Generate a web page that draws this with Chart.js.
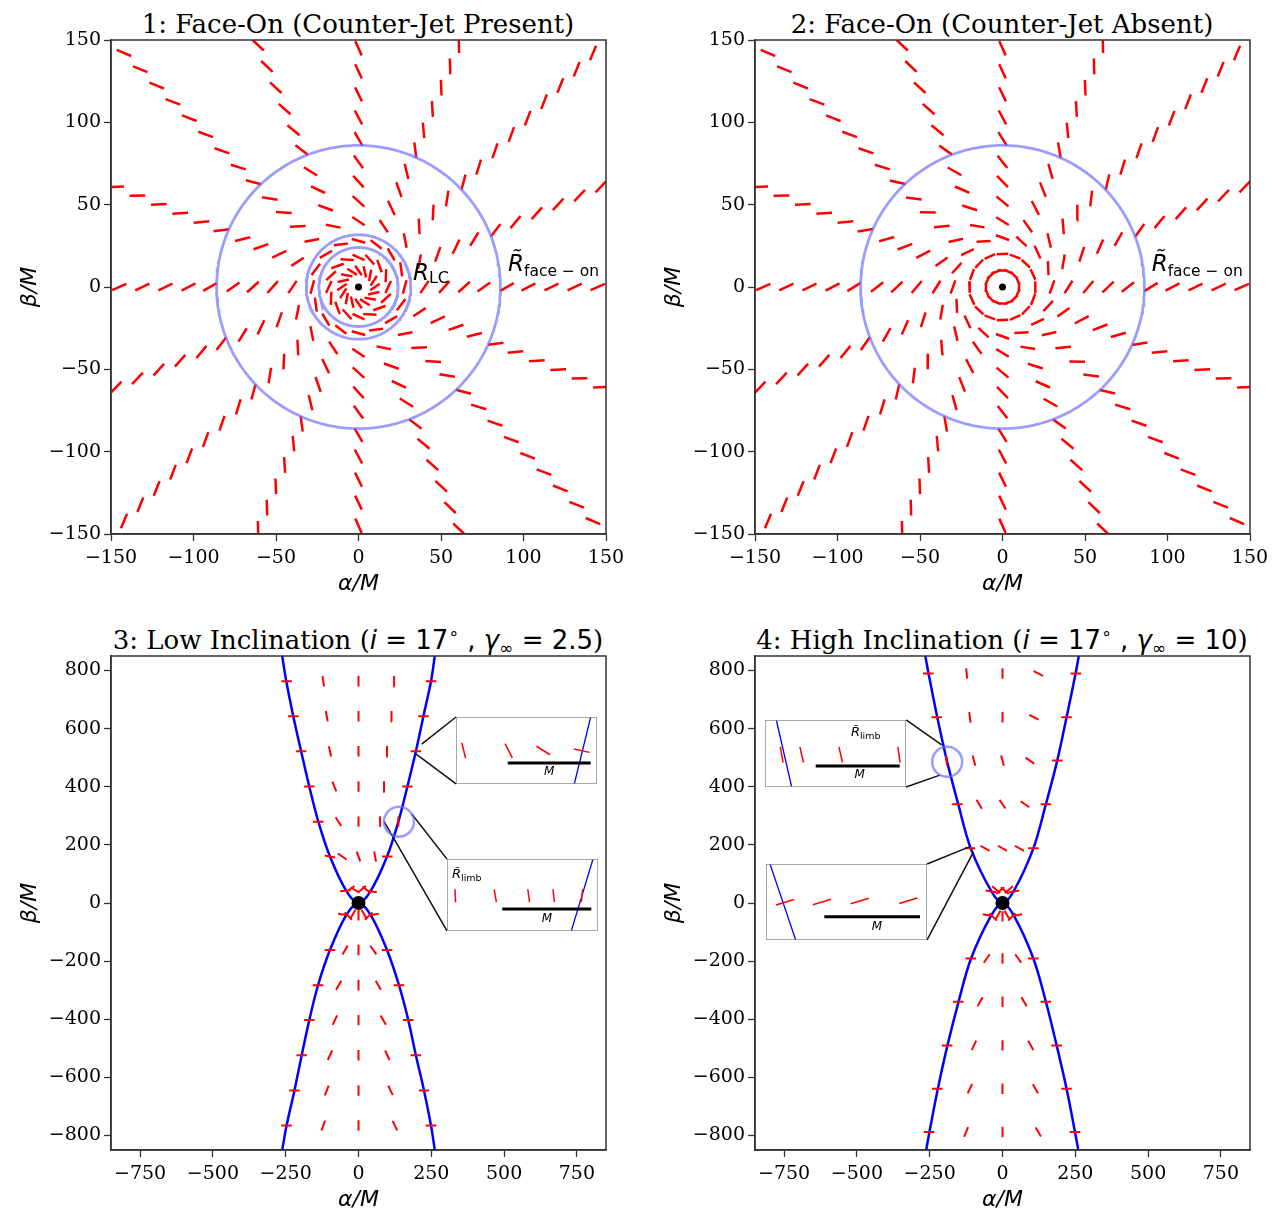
<!DOCTYPE html>
<html>
<head>
<meta charset="utf-8">
<script src="https://cdn.jsdelivr.net/npm/chart.js@4.4.1/dist/chart.umd.min.js"></script>
<style>
  body { margin: 0; background: #fff; width: 1280px; height: 1225px; position: relative; overflow: hidden; }
  canvas { position: absolute; }
  .ttl { position: absolute; font-family: "DejaVu Serif"; font-size: 26px; line-height: 1; white-space: nowrap; transform: translateX(-50%); color: #000; }
  .m { font-family: "DejaVu Sans"; }
  .mi { font-family: "DejaVu Sans"; font-style: italic; }
  .sup { font-family: "DejaVu Sans"; font-size: 17px; position: relative; top: -10px; }
  .sub { font-family: "DejaVu Sans"; font-size: 17px; position: relative; top: 5px; }
</style>
</head>
<body>
<div class="ttl" style="left:358px;top:11px">1: Face-On (Counter-Jet Present)</div>
<div class="ttl" style="left:1002px;top:11px">2: Face-On (Counter-Jet Absent)</div>
<div class="ttl" style="left:358px;top:627px">3: Low Inclination (<span class="mi">i</span><span class="m"> = 17</span><span class="sup">∘</span><span class="m"> , </span><span class="mi">γ</span><span class="sub">∞</span><span class="m"> = 2.5</span>)</div>
<div class="ttl" style="left:1002px;top:627px">4: High Inclination (<span class="mi">i</span><span class="m"> = 17</span><span class="sup">∘</span><span class="m"> , </span><span class="mi">γ</span><span class="sub">∞</span><span class="m"> = 10</span>)</div>

<canvas id="c1" width="640" height="600" style="left:0;top:0"></canvas>
<canvas id="c2" width="636" height="600" style="left:644px;top:0"></canvas>
<canvas id="c3" width="640" height="600" style="left:0;top:616px"></canvas>
<canvas id="c4" width="636" height="600" style="left:644px;top:616px"></canvas>

<script>
// ---- face-on panels: ticks sit on 16 spokes, twisted away from radial
const spokeAngles = [0, 22.5, 45, 67.5, 90, 112.5, 135, 157.5, 180, 202.5, 225, 247.5, 270, 292.5, 315, 337.5];
const p1Radii = [10, 18, 28, 40, 52, 64, 76, 90, 103, 117, 131, 145, 159, 173, 187, 201, 215];
const p1Twist = [35, 65, 75, 56, 48, 42, 36, 30, 28, 26, 25, 24, 24, 23, 23, 22, 22];
const p1Len   = [7, 8, 8.5, 9, 9.5, 9.5, 9.5, 9.5, 9.5, 9.5, 9.5, 9.5, 9.5, 9.5, 9.5, 9.5, 9.5];
const p2Radii = [10, 20, 30, 40, 52, 64, 76, 90, 103, 117, 131, 145, 159, 173, 187, 201, 215];
const p2Twist = [88, 92, 70, 58, 50, 44, 38, 32, 28, 26, 25, 24, 24, 23, 23, 22, 22];
const p2Len   = [6, 7, 8.5, 9, 9.5, 9.5, 9.5, 9.5, 9.5, 9.5, 9.5, 9.5, 9.5, 9.5, 9.5, 9.5, 9.5];
const p1Circles = [24, 31.7, 86];
const p2Circles = [86];
const faceTicks = [-150, -100, -50, 0, 50, 100, 150];

// ---- inclined panels: ticks in rows (x, y, angle in degrees)
const p3TickX = [-247, -121, 0, 123, 249, -224, -109, 0, 114, 223, -197, -98, 0, 99, 197, -169, -83, 0, 89, 168,
  -138, -69, 0, 74, 137, -98, -56, 0, 57, 99, -45, -28, -12, 12, 28, 45, -52, -35, -20, 0, 20, 35, 52,
  -98, -46, 0, 51, 98, -139, -68, 0, 68, 139, -169, -81, 0, 85, 171, -195, -98, 0, 99, 197,
  -220, -109, 0, 110, 225, -247, -121, 0, 125, 249];
const p3TickY = [763, 763, 763, 763, 763, 643, 643, 643, 643, 643, 522, 522, 522, 522, 522, 401, 401, 401, 401, 401,
  280, 280, 280, 280, 280, 160, 160, 160, 160, 160, 42, 48, 45, 48, 45, 40, -40, -45, -40, -42, -40, -45, -40,
  -162, -162, -162, -162, -162, -283, -283, -283, -283, -283, -403, -403, -403, -403, -403, -524, -524, -524, -524, -524,
  -645, -645, -645, -645, -645, -766, -766, -766, -766, -766];
const p3TickAng = [0, 98, 90, 92, 0, 0, 100, 90, 92, 0, 0, 102, 90, 93, 0, 0, 112, 90, 94, 0,
  0, 122, 90, 92, 90, 170, 145, 110, 100, 0, 5, 35, 150, 40, 140, 170, 170, 135, 60, 90, 120, 45, 10,
  0, 60, 90, 125, 0, 0, 60, 90, 120, 0, 0, 65, 90, 120, 0, 0, 65, 90, 115, 0,
  0, 68, 90, 115, 0, 0, 70, 90, 115, 0];

const p4TickX = [-255, -123, 0, 123, 252, -226, -112, 0, 108, 220, -192, -98, 0, 94, 188, -155, -80, 0, 77, 149,
  -112, -60, 0, 58, 106, -40, -22, -8, 8, 22, 40, -50, -32, -16, 0, 16, 32, 50,
  -109, -54, 0, 54, 106, -152, -77, 0, 74, 149, -190, -98, 0, 97, 186, -224, -112, 0, 113, 220, -252, -125, 0, 123, 249];
const p4TickY = [790, 790, 790, 790, 790, 639, 639, 639, 639, 639, 490, 490, 490, 490, 490, 340, 340, 340, 340, 340,
  188, 188, 188, 188, 188, 40, 46, 43, 43, 46, 40, -42, -48, -42, -46, -42, -48, -42,
  -191, -191, -191, -191, -191, -340, -340, -340, -340, -340, -490, -490, -490, -490, -490,
  -639, -639, -639, -639, -639, -788, -788, -788, -788, -788];
const p4TickAng = [0, 95, 90, 153, 0, 0, 97, 90, 153, 0, 95, 105, 105, 145, 0, 0, 120, 125, 145, 0,
  0, 150, 150, 150, 0, 170, 140, 40, 140, 40, 10, 170, 135, 60, 90, 120, 45, 10,
  0, 55, 90, 125, 0, 0, 60, 90, 120, 0, 0, 65, 90, 120, 0, 0, 65, 90, 120, 0, 0, 68, 90, 120, 0];

// limb curves (upper U and lower inverted U)
const p3LimbUpX = [-262, -248, -224, -197, -169, -138, -98, -42, 0, 42, 98, 137, 168, 197, 223, 249, 262];
const p3LimbUpY = [850, 763, 643, 522, 401, 280, 160, 42, 0, 42, 160, 280, 401, 522, 643, 763, 850];
const p3LimbLoX = [-262, -247, -220, -195, -169, -139, -98, -42, 0, 42, 98, 139, 171, 197, 225, 249, 262];
const p3LimbLoY = [-850, -766, -645, -524, -403, -283, -162, -42, 0, -42, -162, -283, -403, -524, -645, -766, -850];
const p4LimbUpX = [-265, -254, -224, -191, -152, -109, -38, 0, 38, 106, 149, 188, 220, 251, 262];
const p4LimbUpY = [850, 790, 639, 490, 340, 188, 40, 0, 40, 188, 340, 490, 639, 790, 850];
const p4LimbLoX = [-262, -251, -222, -189, -151, -108, -40, 0, 40, 106, 149, 186, 220, 249, 260];
const p4LimbLoY = [-850, -788, -639, -490, -340, -191, -45, 0, -45, -191, -340, -490, -639, -788, -850];

const incXTicks = [-750, -500, -250, 0, 250, 500, 750];
const incYTicks = [-800, -600, -400, -200, 0, 200, 400, 600, 800];

// insets: box [x0, x1, y0, y1] in main data units, plus the zoomed spot the connectors go to
const p3Boxes = [[335, 819, 410, 640], [304, 822, -96, 151]];
const p3Targets = [[[217, 547], [197, 513]], [[183, 306], [88, 280]]];
const p3Spot = [139, 280];
const p4Boxes = [[-816, -331, 399, 630], [-812, -259, -127, 134]];
const p4Targets = [[[-209, 544], [-215, 440]], [[-112, 194], [-100, 175]]];
const p4Spot = [-190, 486];

// inset contents, local units (width x height of the inset in px, y upwards)
const insetSpecs = [
  { w: 141, h: 67, limbX: [134.7, 118.3], limbY: [67, 0], tx: [7.7, 52.7, 87.3, 125.8], ty: [33.5, 33.2, 33.5, 33.3],
    ta: [104, 117, 148, 168], tl: 16, barX: [51.7, 134.7], barY: 21, mX: 93.3, mY: 9, label: null },
  { w: 151, h: 72, limbX: [146, 124.3], limbY: [72, 0], tx: [8.3, 48.3, 81.7, 106.7, 135], ty: [35.3, 35.3, 35.3, 35.3, 35.3],
    ta: [93, 100, 98, 96, 84], tl: 13, barX: [55.3, 144.3], barY: 22, mX: 100, mY: 9, label: [5, 53, 'left'] },
  { w: 141, h: 67, limbX: [11.3, 26.7], limbY: [67, 0], tx: [16.7, 36.7, 75.7, 134], ty: [32.3, 32.3, 32.3, 32.3],
    ta: [100, 103, 103, 98], tl: 16, barX: [50.7, 134.7], barY: 21, mX: 94.7, mY: 9, label: [100.7, 51, 'center'] },
  { w: 161, h: 76, limbX: [4, 29.7], limbY: [76, 0], tx: [19, 56, 93.7, 142.3], ty: [37.7, 38, 39, 39.3],
    ta: [17, 17, 17, 17], tl: 19, barX: [58.3, 154], barY: 23.3, mX: 111, mY: 10, label: null }
];

const RED = '#ff0000', BLUE = '#0000ff', PALE = 'rgba(105,105,255,0.66)';

function rad(d) { return d * Math.PI / 180; }
function polarTicks(radii, twist, lens) {
  const pts = [];
  radii.forEach((r, i) => {
    spokeAngles.forEach(a => {
      const cx = r * Math.cos(rad(a)), cy = r * Math.sin(rad(a));
      const dx = Math.cos(rad(a + twist[i])) * lens[i] / 2, dy = Math.sin(rad(a + twist[i])) * lens[i] / 2;
      pts.push({ x: cx - dx, y: cy - dy }, { x: cx + dx, y: cy + dy }, { x: null, y: null });
    });
  });
  return pts;
}
function rowTicks(xs, ys, angs, len) {
  const pts = [];
  xs.forEach((x, i) => {
    const dx = Math.cos(rad(angs[i])) * len / 2, dy = Math.sin(rad(angs[i])) * len / 2;
    pts.push({ x: x - dx, y: ys[i] - dy }, { x: x + dx, y: ys[i] + dy }, { x: null, y: null });
  });
  return pts;
}
function circlePts(r) {
  const pts = [];
  for (let k = 0; k <= 240; k++) pts.push({ x: r * Math.cos(k * Math.PI / 120), y: r * Math.sin(k * Math.PI / 120) });
  return pts;
}
function pairs(xs, ys) { return xs.map((x, i) => ({ x: x, y: ys[i] })); }
function connectors(boxes, targets, side) {
  const pts = [];
  boxes.forEach((b, i) => {
    const cx = side === 'left' ? b[0] : b[1];
    pts.push({ x: cx, y: b[3] }, { x: targets[i][0][0], y: targets[i][0][1] }, { x: null, y: null });
    pts.push({ x: cx, y: b[2] }, { x: targets[i][1][0], y: targets[i][1][1] }, { x: null, y: null });
  });
  return pts;
}
function fmt(v) { return v < 0 ? '\u2212' + Math.abs(v) : String(v); }

const framePlugin = {
  id: 'frame',
  afterDatasetsDraw(chart, args, opts) {
    const a = chart.chartArea, ctx = chart.ctx;
    ctx.save();
    ctx.strokeStyle = opts.color || '#333';
    ctx.lineWidth = opts.width || 1.5;
    ctx.strokeRect(a.left, a.top, a.right - a.left, a.bottom - a.top);
    ctx.restore();
  }
};
const textPlugin = {
  id: 'txt',
  afterDatasetsDraw(chart, args, opts) {
    const ctx = chart.ctx, xs = chart.scales.x, ys = chart.scales.y;
    (opts.items || []).forEach(it => {
      ctx.save();
      ctx.fillStyle = '#000';
      ctx.textBaseline = 'alphabetic';
      ctx.textAlign = 'left';
      let total = 0;
      it.parts.forEach(p => { ctx.font = p.font; total += ctx.measureText(p.t).width; });
      let px = xs.getPixelForValue(it.x), py = ys.getPixelForValue(it.y);
      if (it.align === 'center') px -= total / 2;
      it.parts.forEach(p => {
        ctx.font = p.font;
        ctx.fillText(p.t, px, py + (p.dy || 0));
        px += ctx.measureText(p.t).width;
      });
      ctx.restore();
    });
  }
};

function axis(pos, min, max, ticks, title) {
  const horiz = pos === 'bottom';
  return {
    type: 'linear', position: pos, min: min, max: max,
    afterBuildTicks: s => { s.ticks = ticks.map(v => ({ value: v })); },
    afterFit: s => { if (horiz) s.height = 66; else s.width = 111; },
    ticks: { font: { family: 'DejaVu Serif', size: 19 }, color: '#000', padding: horiz ? 6 : 3, callback: v => fmt(v) },
    grid: { display: true, drawOnChartArea: false, drawTicks: true, tickLength: 7, tickWidth: 1.3, tickColor: '#333' },
    border: { display: true, color: '#333', width: 1.5 },
    title: {
      display: true, text: title, color: '#000',
      font: { family: 'DejaVu Sans', size: 22, style: 'italic' },
      padding: horiz ? { top: 0, bottom: 3 } : { top: 17, bottom: 0 }
    }
  };
}

function mainChart(id, padRight, lim, xt, yt, datasets, items) {
  return new Chart(document.getElementById(id), {
    type: 'scatter',
    data: { datasets: datasets },
    options: {
      responsive: false, animation: false, devicePixelRatio: 1,
      layout: { padding: { left: 0, right: padRight, top: 40, bottom: 0 } },
      scales: { x: axis('bottom', -lim, lim, xt, '\u03b1/M'), y: axis('left', -lim, lim, yt, '\u03b2/M') },
      plugins: { legend: { display: false }, tooltip: { enabled: false }, title: { display: false }, txt: { items: items } },
      elements: { point: { radius: 0 } }
    },
    plugins: [framePlugin, textPlugin]
  });
}

function line(data, color, width, extra) {
  return Object.assign({ data: data, showLine: true, borderColor: color, borderWidth: width, pointRadius: 0, spanGaps: false, tension: 0, borderCapStyle: 'butt' }, extra || {});
}
function dot(x, y, r) {
  return { data: [{ x: x, y: y }], pointRadius: r, pointBackgroundColor: '#000', pointBorderWidth: 0, showLine: false };
}
function ring(x, y, r) {
  return { data: [{ x: x, y: y }], pointRadius: r, pointBackgroundColor: 'rgba(0,0,0,0)', pointBorderColor: PALE, pointBorderWidth: 2.5, showLine: false };
}

const rLabel = (x, y, sub) => ({ x: x, y: y, parts: [
  { t: 'R\u0303', font: 'italic 23px "DejaVu Sans"' },
  { t: sub, font: '15.5px "DejaVu Sans"', dy: 5 }] });

// panel 1
mainChart('c1', 34, 150, faceTicks, faceTicks, [
  dot(0, 0, 3.5),
  ...p1Circles.map(r => line(circlePts(r), PALE, 2.8)),
  line(polarTicks(p1Radii, p1Twist, p1Len), RED, 2.5)
], [
  { x: 33, y: 4, parts: [{ t: 'R', font: 'italic 23px "DejaVu Sans"' }, { t: 'LC', font: '16px "DejaVu Sans"', dy: 3 }] },
  rLabel(90.6, 10, 'face \u2212 on')
]);

// panel 2
mainChart('c2', 30, 150, faceTicks, faceTicks, [
  dot(0, 0, 3.5),
  ...p2Circles.map(r => line(circlePts(r), PALE, 2.8)),
  line(polarTicks(p2Radii, p2Twist, p2Len), RED, 2.5)
], [rLabel(90.4, 10, 'face \u2212 on')]);

// panel 3
const c3 = mainChart('c3', 34, 850, incXTicks, incYTicks, [
  dot(0, 0, 7),
  ring(p3Spot[0], p3Spot[1], 15),
  line(connectors(p3Boxes, p3Targets, 'left'), '#111', 1.5),
  line(rowTicks(p3TickX, p3TickY, p3TickAng, 36), RED, 2),
  line(pairs(p3LimbUpX, p3LimbUpY), BLUE, 2.5, { tension: 0.35 }),
  line(pairs(p3LimbLoX, p3LimbLoY), BLUE, 2.5, { tension: 0.35 })
], []);

// panel 4
const c4 = mainChart('c4', 30, 850, incXTicks, incYTicks, [
  dot(0, 0, 7),
  ring(p4Spot[0], p4Spot[1], 15),
  line(connectors(p4Boxes, p4Targets, 'right'), '#111', 1.5),
  line(rowTicks(p4TickX, p4TickY, p4TickAng, 36), RED, 2),
  line(pairs(p4LimbUpX, p4LimbUpY), BLUE, 2.5, { tension: 0.35 }),
  line(pairs(p4LimbLoX, p4LimbLoY), BLUE, 2.5, { tension: 0.35 })
], []);

function addInset(main, box, spec) {
  const xs = main.scales.x, ys = main.scales.y;
  const l = xs.getPixelForValue(box[0]), r = xs.getPixelForValue(box[1]);
  const t = ys.getPixelForValue(box[3]), b = ys.getPixelForValue(box[2]);
  const c = document.createElement('canvas');
  c.width = Math.round(r - l);
  c.height = Math.round(b - t);
  c.style.left = Math.round(main.canvas.offsetLeft + l) + 'px';
  c.style.top = Math.round(main.canvas.offsetTop + t) + 'px';
  c.style.background = '#fff';
  document.body.appendChild(c);
  const items = [{ x: spec.mX, y: spec.mY, align: 'center', parts: [{ t: 'M', font: 'italic 12px "DejaVu Sans"' }] }];
  if (spec.label) items.push({ x: spec.label[0], y: spec.label[1], align: spec.label[2], parts: [
    { t: 'R\u0303', font: 'italic 13px "DejaVu Sans"' }, { t: 'limb', font: '9.5px "DejaVu Sans"', dy: 3 }] });
  new Chart(c, {
    type: 'scatter',
    data: { datasets: [
      line(rowTicks(spec.tx, spec.ty, spec.ta, spec.tl), RED, 1.5),
      line(pairs(spec.barX, [spec.barY, spec.barY]), '#000', 3),
      line(pairs(spec.limbX, spec.limbY), BLUE, 1.3)
    ] },
    options: {
      responsive: false, animation: false, devicePixelRatio: 1,
      layout: { padding: 0 },
      scales: { x: { type: 'linear', display: false, min: 0, max: spec.w }, y: { type: 'linear', display: false, min: 0, max: spec.h } },
      plugins: { legend: { display: false }, tooltip: { enabled: false }, frame: { color: '#8c8c8c', width: 1.5 }, txt: { items: items } }
    },
    plugins: [framePlugin, textPlugin]
  });
}
addInset(c3, p3Boxes[0], insetSpecs[0]);
addInset(c3, p3Boxes[1], insetSpecs[1]);
addInset(c4, p4Boxes[0], insetSpecs[2]);
addInset(c4, p4Boxes[1], insetSpecs[3]);
</script>
</body>
</html>
